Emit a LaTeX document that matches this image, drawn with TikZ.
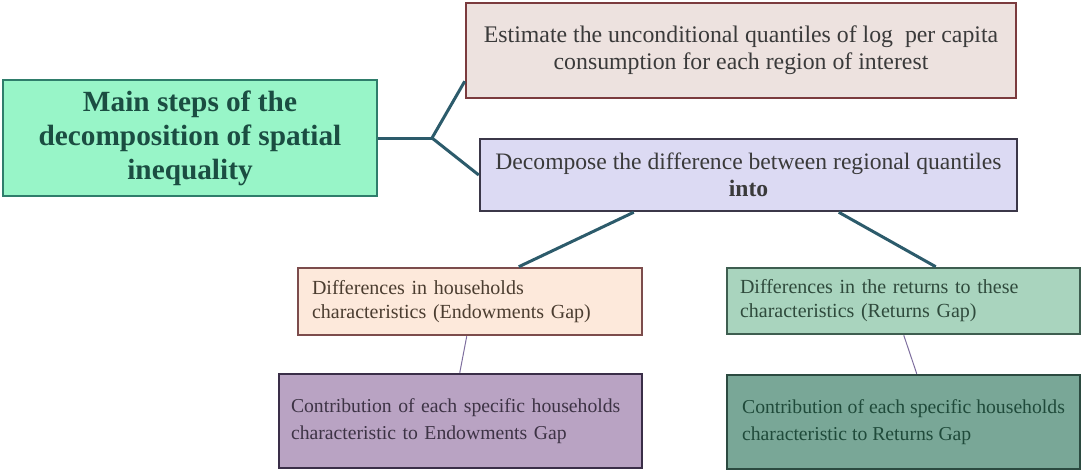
\documentclass[tikz,border=0pt]{standalone}
\usepackage{fontspec}
\setmainfont{Liberation Serif}
\usetikzlibrary{calc}
\definecolor{mainfill}{HTML}{98F5C8}
\definecolor{mainbord}{HTML}{2F7D6B}
\definecolor{maintext}{HTML}{1B4D42}
\definecolor{estfill}{HTML}{EDE2DF}
\definecolor{estbord}{HTML}{7B3B3E}
\definecolor{dectext}{HTML}{3A3A3A}
\definecolor{decfill}{HTML}{DCDAF3}
\definecolor{decbord}{HTML}{3B3748}
\definecolor{endfill}{HTML}{FDE9DB}
\definecolor{endbord}{HTML}{7C4C4C}
\definecolor{endtext}{HTML}{4B3D30}
\definecolor{retfill}{HTML}{A9D4BE}
\definecolor{retbord}{HTML}{3E5E50}
\definecolor{rettext}{HTML}{2F4A3C}
\definecolor{cefill}{HTML}{B9A3C3}
\definecolor{cebord}{HTML}{3A2E48}
\definecolor{cetext}{HTML}{3D3345}
\definecolor{crfill}{HTML}{79A797}
\definecolor{crbord}{HTML}{2B4A40}
\definecolor{crtext}{HTML}{1F4A3A}
\definecolor{conn}{HTML}{2C5B6B}
\definecolor{thinconn}{HTML}{7E6E9E}
\tikzset{
  box/.style={draw, line width=2.5pt, rectangle, inner sep=0pt},
  thick connector/.style={draw=conn, line width=3pt},
  thin connector/.style={draw=thinconn, line width=1pt},
}
\begin{document}
\begin{tikzpicture}[x=1pt,y=-1pt]
\useasboundingbox (0,0) rectangle (1081,471);
\node[box, fill=mainfill, draw=mainbord, text=maintext, minimum width=374pt, minimum height=116pt, align=center,
  font=\fontsize{29.3}{34}\selectfont\bfseries] (main) at (190,138)
  {Main steps of the\\decomposition of spatial\\inequality};
\node[box, fill=estfill, draw=estbord, text=dectext, minimum width=550pt, minimum height=95pt, align=center,
  font=\fontsize{23.8}{27}\selectfont] (est) at (741,50.5)
  {Estimate the unconditional quantiles of log\ \ per capita\\consumption for each region of interest};
\node[box, fill=decfill, draw=decbord, text=dectext, minimum width=537pt, minimum height=72pt, align=center,
  font=\fontsize{23.6}{27}\selectfont] (dec) at (748.5,175)
  {Decompose the difference between regional quantiles\\\textbf{into}};
\node[box, fill=endfill, draw=endbord, text=endtext, minimum width=344pt, minimum height=67pt,
  text width=316pt, align=left, font=\fontsize{20}{24}\selectfont] (endow) at (470,301.5)
  {Differences in households\\characteristics (Endowments Gap)};
\node[box, fill=retfill, draw=retbord, text=rettext, minimum width=353pt, minimum height=66pt,
  text width=327pt, align=left, font=\fontsize{20}{24}\selectfont] (ret) at (903.5,301)
  {Differences in the returns to these\\characteristics (Returns Gap)};
\node[box, fill=cefill, draw=cebord, text=cetext, minimum width=363pt, minimum height=94pt,
  text width=339pt, align=left, font=\fontsize{19.7}{27}\selectfont] (ce) at (460.5,421)
  {Contribution of each specific households\\characteristic to Endowments Gap};
\node[box, fill=crfill, draw=crbord, text=crtext, minimum width=353pt, minimum height=94pt,
  align=left, font=\fontsize{19.7}{27}\selectfont] (cr) at (903.5,422)
  {Contribution of each specific households\\characteristic to Returns Gap};
\coordinate (jn) at (432,138);
\draw[thick connector] (main.east) -- (jn);
\draw[thick connector] (jn) -- ($(est.south west)+(0,-18)$);
\draw[thick connector] (jn) -- (dec.west);
\draw[thick connector] ($(dec.south west)+(155,0)$) -- ($(endow.north west)+(222,0)$);
\draw[thick connector] ($(dec.south west)+(360,0)$) -- ($(ret.north west)+(210,0)$);
\draw[thin connector] ($(endow.south west)+(170,0)$) -- ($(ce.north west)+(182,0)$);
\draw[thin connector] ($(ret.south west)+(178,0)$) -- ($(cr.north west)+(191,0)$);
\end{tikzpicture}
\end{document}
